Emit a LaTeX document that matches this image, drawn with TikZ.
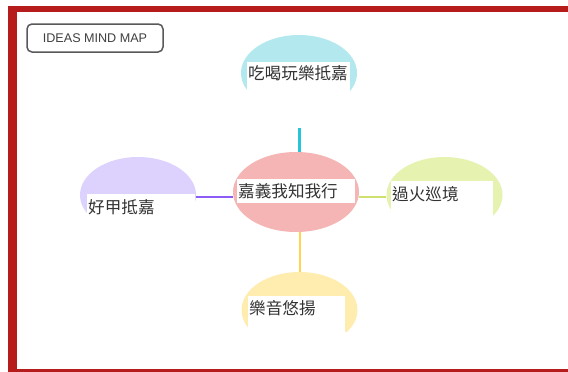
\documentclass[tikz,border=0pt]{standalone}
\usepackage{fontspec}
\setmainfont{Liberation Sans}
\newfontfamily\cjk{Noto Sans CJK TC}
\usetikzlibrary{shapes.geometric}
\definecolor{bordred}{HTML}{B71C1C}
\definecolor{pinkfill}{HTML}{F5B5B5}
\definecolor{cyanfill}{HTML}{B3E9EE}
\definecolor{cyanline}{HTML}{26C6DA}
\definecolor{purpfill}{HTML}{DDD2FE}
\definecolor{purpline}{HTML}{8B5CF6}
\definecolor{greenfill}{HTML}{E6F3B0}
\definecolor{greenline}{HTML}{D0E070}
\definecolor{yelfill}{HTML}{FFEDB0}
\definecolor{yelline}{HTML}{FFD54F}
\definecolor{txt}{HTML}{333333}
\tikzset{
  bubble/.style={ellipse, inner sep=0pt, minimum width=116pt, minimum height=76pt, draw=none},
  lbl/.style={anchor=west, inner sep=0.5pt, text=txt, font=\cjk\fontsize{16.6}{18}\selectfont},
  conn/.style={line width=2.8pt},
  titlebox/.style={draw=black!65, line width=1.5pt, rounded corners=5pt, fill=white, inner sep=0pt,
     minimum width=136pt, minimum height=28pt, text=black!75, font=\fontsize{12.6}{14}\selectfont}
}
\begin{document}
\begin{tikzpicture}[x=1pt,y=-1pt]
\useasboundingbox (0,0) rectangle (568,372);
\fill[white] (0,0) rectangle (568,372);
% red frame
\fill[bordred] (8,6) rectangle (568,12);
\fill[bordred] (8,6) rectangle (16.5,372);
\fill[bordred] (8,369) rectangle (568,372);
% title
\node[titlebox] (title) at (95,38) {IDEAS MIND MAP};
% top bubble
\begin{scope}
\clip (0,0) rectangle (568,93);
\node[bubble, fill=cyanfill] (t) at (299,73) {};
\end{scope}
\fill[white] (247,62) rectangle (350,95);
\node[lbl] (tt) at (247.5,73) {吃喝玩樂抵嘉};
% left bubble
\begin{scope}
\clip (0,0) rectangle (568,213);
\node[bubble, fill=purpfill] (l) at (138,195) {};
\end{scope}
\fill[white] (87,194) rectangle (195,215);
\node[lbl] (lt) at (87.5,207.5) {好甲抵嘉};
% right bubble
\begin{scope}
\clip (0,0) rectangle (568,215);
\node[bubble, fill=greenfill] (r) at (444.5,195) {};
\end{scope}
\fill[white] (391,181) rectangle (493,217);
\node[lbl] (rt) at (391.5,194.5) {過火巡境};
% bottom bubble
\begin{scope}
\clip (0,0) rectangle (568,331);
\node[bubble, fill=yelfill] (b) at (299.5,310) {};
\end{scope}
\fill[white] (248,296) rectangle (345,333);
\node[lbl] (bt) at (248.5,308) {樂音悠揚};
% center
\node[ellipse, inner sep=0pt, minimum width=126pt, minimum height=80pt, fill=pinkfill] (c) at (296,192) {};
\fill[white] (237,179) rectangle (355,203);
\node[lbl] (ct) at (237.5,191.5) {嘉義我知我行};
% connectors
\coordinate (tend) at (299.5,128);
\coordinate (row) at (0,197);
\coordinate (colb) at (300,0);
\draw[conn, cyanline] (tend) -- (tend |- c.north);
\draw[conn, purpline] (l.east |- row) -- (c.west |- row);
\draw[conn, greenline] (c.east |- row) -- (r.west |- row);
\draw[conn, yelline] (colb |- c.south) -- (colb |- b.north);
\end{tikzpicture}
\end{document}
